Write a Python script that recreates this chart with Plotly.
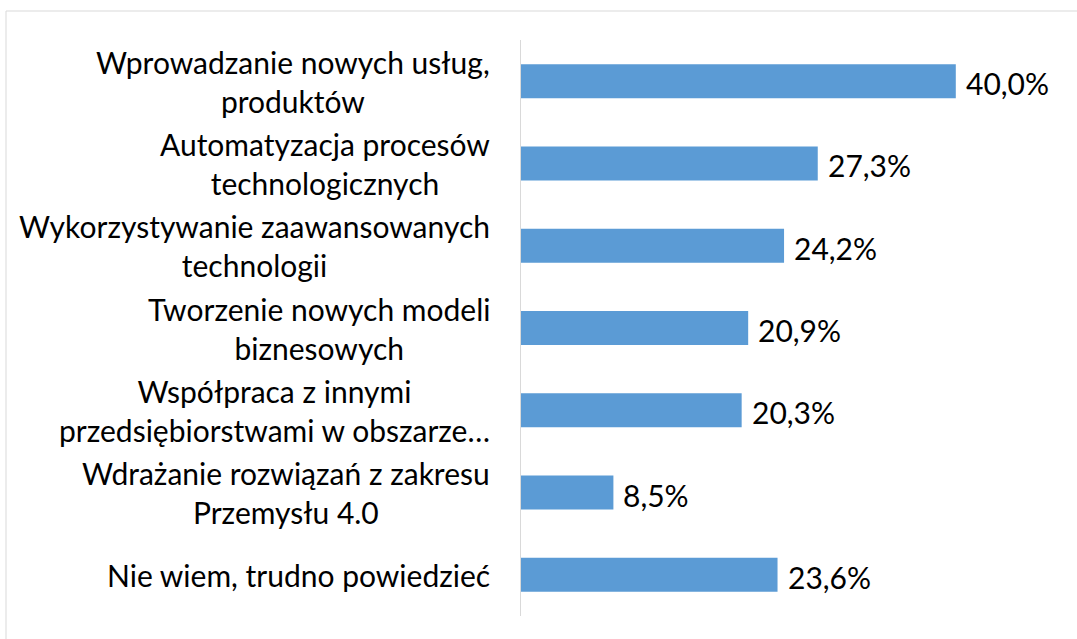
import plotly.graph_objects as go

categories = [
    "Wprowadzanie nowych usług,<br>produktów",
    "Automatyzacja procesów<br>technologicznych",
    "Wykorzystywanie zaawansowanych<br>technologii",
    "Tworzenie nowych modeli<br>biznesowych",
    "Współpraca z innymi<br>przedsiębiorstwami w obszarze…",
    "Wdrażanie rozwiązań z zakresu<br>Przemysłu 4.0",
    "Nie wiem, trudno powiedzieć",
]
values = [40.0, 27.3, 24.2, 20.9, 20.3, 8.5, 23.6]
value_labels = ["40,0%", "27,3%", "24,2%", "20,9%", "20,3%", "8,5%", "23,6%"]

FONT = "Lato"
FS = 30
W, H = 1077, 639
L, R, T, B = 521, 17, 40, 23
PW = W - L - R
PH = H - T - B

fig = go.Figure(go.Bar(
    x=values, y=list(range(len(categories))), orientation="h",
    marker=dict(color="#5B9BD5", line=dict(width=0)),
    hoverinfo="skip",
))

annotations = []
for i, (c, v, lab) in enumerate(zip(categories, values, value_labels)):
    annotations.append(dict(
        x=(492 - L) / PW, xref="paper", y=i, yref="y",
        text=c, showarrow=False, xanchor="right", yanchor="middle", align="center",
        font=dict(family=FONT, size=FS, color="#000000"),
    ))
    annotations.append(dict(
        x=v, xref="x", y=i, yref="y", yshift=-2,
        text=lab, showarrow=False, xanchor="left", yanchor="middle", xshift=8,
        font=dict(family=FONT, size=FS, color="#000000"),
    ))

x_max = PW / 10.87

fig.update_layout(
    width=W, height=H,
    margin=dict(l=L, r=R, t=T, b=B, pad=0),
    paper_bgcolor="white", plot_bgcolor="white",
    bargap=0.587,
    showlegend=False,
    xaxis=dict(range=[0, x_max], visible=False, fixedrange=True),
    yaxis=dict(range=[len(categories) - 0.5, -0.5], showticklabels=False,
               showgrid=False, zeroline=False, showline=True,
               linecolor="#d9d9d9", linewidth=1, ticks="", fixedrange=True),
    annotations=annotations,
    shapes=[dict(type="rect", xref="paper", yref="paper",
                 x0=(6 - L) / PW, x1=(1100 - L) / PW,
                 y0=-(B + 30) / PH, y1=1 + (T - 11) / PH,
                 line=dict(color="#d9d9d9", width=1), layer="below")],
)

fig.write_html(
    "out.html",
    config={"displayModeBar": False},
    post_script="document.body.style.margin='0';document.body.style.padding='0';",
)
